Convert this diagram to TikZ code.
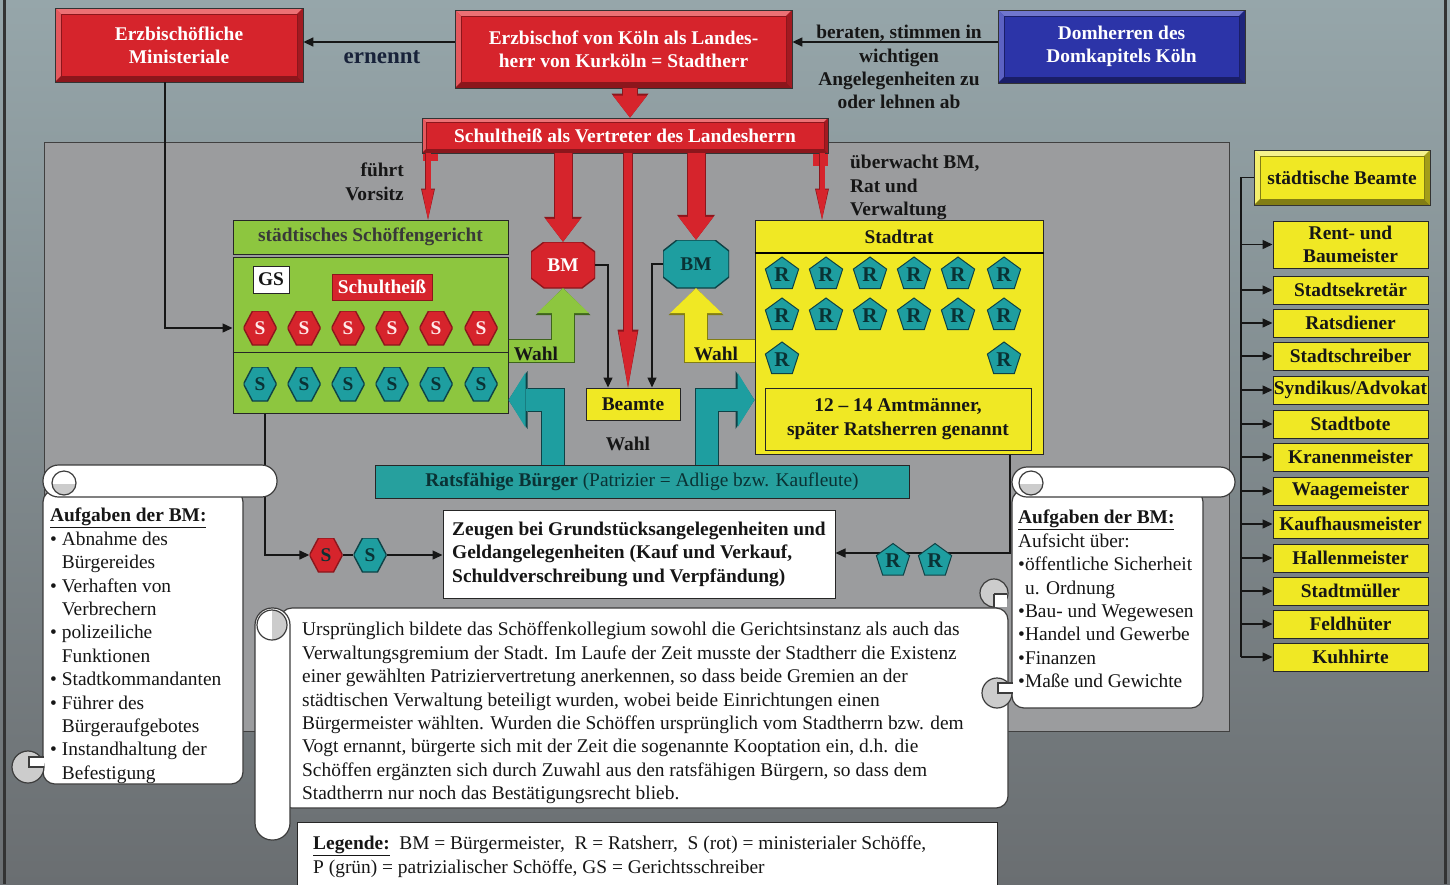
\documentclass[tikz,border=0pt]{standalone}
\usepackage{fontspec}
\setmainfont{Liberation Serif}
\usetikzlibrary{arrows.meta,shapes.geometric}

\definecolor{bgtop}{RGB}{150,166,170}
\definecolor{bgmid}{RGB}{166,206,212}
\definecolor{bgbot}{RGB}{106,110,113}
\definecolor{panel}{RGB}{155,156,158}
\definecolor{ink}{RGB}{22,22,22}
\definecolor{navy}{RGB}{24,34,58}
\definecolor{rd}{RGB}{214,36,44}
\definecolor{rdl}{RGB}{236,112,116}
\definecolor{rdd}{RGB}{140,22,28}
\definecolor{bl}{RGB}{44,52,168}
\definecolor{bll}{RGB}{112,118,206}
\definecolor{bld}{RGB}{26,30,104}
\definecolor{yl}{RGB}{240,232,36}
\definecolor{yll}{RGB}{246,242,140}
\definecolor{yld}{RGB}{130,125,20}
\definecolor{gr}{RGB}{141,198,63}
\definecolor{grd}{RGB}{62,100,28}
\definecolor{tl}{RGB}{30,158,160}
\definecolor{tld}{RGB}{14,66,70}
\definecolor{tlb}{RGB}{38,160,158}
\definecolor{tlx}{RGB}{10,50,52}
\definecolor{curlc}{RGB}{204,204,204}
\definecolor{scrl}{RGB}{60,60,60}

\newcommand\fsz{\fontsize{19.4pt}{23.4pt}\selectfont}

\tikzset{
  bevw/.store in=\bevw, bevw=6pt,
  bevel/.style n args={3}{fill=#1, draw=black!80, line width=0.8pt, inner sep=0pt,
    text=white, font=\bfseries\fsz, align=center,
    path picture={
      \coordinate (pNW) at (path picture bounding box.north west);
      \coordinate (pNE) at (path picture bounding box.north east);
      \coordinate (pSW) at (path picture bounding box.south west);
      \coordinate (pSE) at (path picture bounding box.south east);
      \coordinate (iNW) at ([shift={(\bevw,-\bevw)}]pNW);
      \coordinate (iNE) at ([shift={(-\bevw,-\bevw)}]pNE);
      \coordinate (iSW) at ([shift={(\bevw,\bevw)}]pSW);
      \coordinate (iSE) at ([shift={(-\bevw,\bevw)}]pSE);
      \fill[#2] (pNW) -- (pNE) -- (iNE) -- (iNW) -- cycle;
      \fill[#2!70!#1] (pNW) -- (iNW) -- (iSW) -- (pSW) -- cycle;
      \fill[#3] (pSW) -- (iSW) -- (iSE) -- (pSE) -- cycle;
      \fill[#3!70!#1] (pNE) -- (iNE) -- (iSE) -- (pSE) -- cycle;
      \draw[#3, line width=0.6pt] (iNW) rectangle (iSE);
    }},
  hexa/.style 2 args={minimum width=33pt, minimum height=34pt, inner sep=0pt,
    fill=white, fill opacity=0, text opacity=1, font=\bfseries\fsz,
    path picture={
      \coordinate (pW) at (path picture bounding box.west);
      \coordinate (pE) at (path picture bounding box.east);
      \coordinate (pNW) at (path picture bounding box.north west);
      \coordinate (pNE) at (path picture bounding box.north east);
      \coordinate (pSW) at (path picture bounding box.south west);
      \coordinate (pSE) at (path picture bounding box.south east);
      \filldraw[fill=#1, draw=#2, fill opacity=1, line width=1.4pt]
        (pW) -- ([xshift=9pt]pNW) -- ([xshift=-9pt]pNE) -- (pE)
        -- ([xshift=-9pt]pSE) -- ([xshift=9pt]pSW) -- cycle;
    }},
  octa/.style n args={4}{inner sep=0pt, fill=white, fill opacity=0, text opacity=1,
    font=\bfseries\fsz,
    path picture={
      \coordinate (pNW) at (path picture bounding box.north west);
      \coordinate (pNE) at (path picture bounding box.north east);
      \coordinate (pSW) at (path picture bounding box.south west);
      \coordinate (pSE) at (path picture bounding box.south east);
      \filldraw[fill=#1, draw=#2, fill opacity=1, line width=1.4pt]
        ([xshift=#3]pNW) -- ([xshift=-#3]pNE) -- ([yshift=-#4]pNE) -- ([yshift=#4]pSE)
        -- ([xshift=-#3]pSE) -- ([xshift=#3]pSW) -- ([yshift=#4]pSW) -- ([yshift=-#4]pNW) -- cycle;
    }},
  pent/.style={regular polygon, regular polygon sides=5, minimum size=35pt, inner sep=0pt,
    fill=tl, draw=tld, line width=1pt, text=tlx,
    font=\bfseries\fontsize{21pt}{21pt}\selectfont},
  box/.style={draw=black!85, line width=1pt, inner sep=0pt},
  lbl/.style={font=\bfseries\fsz, text=ink, inner sep=0pt, align=center},
  txt/.style={font=\fsz, text=ink, inner sep=0pt, align=left},
  offb/.style={box, fill=yl, minimum width=155pt, minimum height=28pt,
    font=\bfseries\fsz, text=ink, align=center},
  conn/.style={draw=ink, line width=1.4pt, -{Triangle[length=10pt,width=9pt]}},
  plain/.style={draw=ink, line width=1.4pt},
  fatR/.style={preaction={draw=rdd, line width=19pt, -{Triangle[width=38pt,length=25pt,line width=0pt]}},
    draw=rd, line width=17pt, -{Triangle[width=35pt,length=23pt,line width=0pt]}},
  fatRtop/.style={preaction={draw=rdd, line width=16pt, -{Triangle[width=37pt,length=24pt,line width=0pt]}},
    draw=rd, line width=14pt, -{Triangle[width=34pt,length=22pt,line width=0pt]}},
  thinR/.style={preaction={draw=rdd, line width=6.5pt, -{Triangle[width=14pt,length=31pt,line width=0pt]}},
    draw=rd, line width=5pt, -{Triangle[width=12pt,length=30pt,line width=0pt]}},
  midR/.style={preaction={draw=rdd, line width=9.5pt, -{Triangle[width=21pt,length=58pt,line width=0pt]}},
    draw=rd, line width=8pt, -{Triangle[width=19pt,length=56pt,line width=0pt]}},
  fatG/.style={preaction={draw=grd, line width=24pt, -{Triangle[width=55pt,length=27pt,line width=0pt]}},
    draw=gr, line width=22pt, -{Triangle[width=52pt,length=25pt,line width=0pt]}},
  fatY/.style={preaction={draw=yld, line width=24pt, -{Triangle[width=55pt,length=27pt,line width=0pt]}},
    draw=yl, line width=22pt, -{Triangle[width=52pt,length=25pt,line width=0pt]}},
  fatT/.style={preaction={draw=tld, line width=24pt, -{Triangle[width=58pt,length=19pt,line width=0pt]}},
    draw=tl, line width=22pt, -{Triangle[width=55pt,length=17pt,line width=0pt]}},
  scr/.style={draw=scrl, line width=1.2pt, fill=white},
  scrc/.style={draw=scrl, line width=1.2pt},
}

\begin{document}
\begin{tikzpicture}[x=1pt,y=-1pt]
\useasboundingbox (0,0) rectangle (1450,884);
\shade[top color=bgtop, middle color=bgmid, bottom color=bgbot] (0,0) rectangle (1450,884);
\draw[line width=3pt, black!80] (4,0) -- (4,884) (1445,0) -- (1445,884);

% inner grey panel
\draw[fill=panel, draw=black!75, line width=1pt] (44,142) rectangle (1229,731);

% --- top row ---
\node[bevel={rd}{rdl}{rdd}, minimum width=248pt, minimum height=74pt] (mini) at (179,45) {Erzbischöfliche\\Ministeriale};
\node[bevel={rd}{rdl}{rdd}, minimum width=337pt, minimum height=78pt] (erzb) at (623.5,49) {Erzbischof von Köln als Landes-\\herr von Kurköln = Stadtherr};
\node[bevel={bl}{bll}{bld}, minimum width=247pt, minimum height=73pt] (dom) at (1121.5,46.5) {Domherren des\\Domkapitels Köln};

\coordinate (ay) at (0,42);
\draw[conn] (dom.west |- ay) -- (erzb.east |- ay);
\draw[conn] (erzb.west |- ay) -- (mini.east |- ay);
\node[lbl, text=navy, font=\bfseries\fontsize{23pt}{26pt}\selectfont] (ernennt) at (382,57) {ernennt};
\node[lbl, anchor=north] (berat) at (899,25) {beraten, stimmen in\\wichtigen\\Angelegenheiten zu\\oder lehnen ab};

% --- Schultheiss bar ---
\fill[rd] (423,148) rectangle (438,161);
\fill[rd] (813,148) rectangle (828,166);
\node[bevel={rd}{rdl}{rdd}, bevw=4pt, minimum width=406pt, minimum height=35pt] (bar) at (625,135.5) {Schultheiß als Vertreter des Landesherrn};
\coordinate (fx) at (630,0);
\draw[fatRtop] (erzb.south -| fx) -- (bar.north -| fx);

% --- Schoeffengericht ---
\node[box, fill=gr, minimum width=275pt, minimum height=34pt, font=\bfseries\fsz, text=ink!85] (ghead) at (370.5,237) {städtisches Schöffengericht};
\node[box, fill=gr, minimum width=275pt, minimum height=156pt] (gbody) at (370.5,335) {};
\coordinate (dv) at (0,352);
\draw[black!85, line width=1pt] (gbody.west |- dv) -- (gbody.east |- dv);
\node[box, fill=white, minimum width=36pt, minimum height=27pt, font=\bfseries\fsz, text=ink] (gs) at (271,279.5) {GS};
\node[box, fill=rd, draw=rdd, minimum width=100pt, minimum height=26pt, font=\bfseries\fsz, text=white] (schult) at (382,287) {Schultheiß};
\foreach \i/\xx in {1/260,2/304,3/348,4/392,5/436,6/481} {
  \node[hexa={rd}{rdd}, text=white!92!red] (sr\i) at (\xx,328) {S};
  \node[hexa={tl}{tld}, text=tlx] (st\i) at (\xx,384) {S};
}

% --- Stadtrat ---
\node[box, fill=yl, minimum width=288pt, minimum height=234pt] (stadt) at (899,337) {};
\node[lbl] (sthead) at (899,237) {Stadtrat};
\coordinate (hy) at (0,253);
\draw[black, line width=2.5pt] (stadt.west |- hy) -- (stadt.east |- hy);
\foreach \i/\xx in {1/782,2/826,3/870,4/914,5/958,6/1004} {
  \node[pent] (ra\i) at (\xx,274.5) {R};
  \node[pent] (rb\i) at (\xx,315.5) {R};
}
\node[pent] (rc1) at (782,359.5) {R};
\node[pent] (rc6) at (1004,359.5) {R};
\node[box, fill=yl, minimum width=266pt, minimum height=62pt, font=\bfseries\fsz, text=ink, align=center] (amt) at (898,419) {12 – 14 Amtmänner,\\später Ratsherren genannt};

% --- Buergermeister and Beamte ---
\node[octa={rd}{rdd}{13pt}{10pt}, minimum width=64pt, minimum height=46pt, text=white] (bmR) at (563,265) {BM};
\node[octa={tl}{tld}{14pt}{11pt}, minimum width=66pt, minimum height=48pt, text=tlx] (bmT) at (696,264) {BM};
\node[box, fill=yl, minimum width=94pt, minimum height=32pt, font=\bfseries\fsz, text=ink] (beamte) at (633,404) {Beamte};

% red arrows from the Schultheiss bar
\coordinate (xa) at (428,0);
\coordinate (xb) at (628,0);
\coordinate (xc) at (822,0);
\draw[thinR] (bar.south -| xa) -- (ghead.north -| xa);
\draw[fatR] (bar.south -| bmR.north) -- (bmR.north);
\draw[midR] (bar.south -| xb) -- (beamte.north -| xb);
\draw[fatR] (bar.south -| bmT.north) -- (bmT.north);
\draw[thinR] (bar.south -| xc) -- (stadt.north -| xc);

\node[lbl, align=right, anchor=north east] (vors) at (404,163) {führt\\Vorsitz};
\node[lbl, align=left, anchor=north west] (uew) at (850,155) {überwacht BM,\\Rat und\\Verwaltung};

% BM -> Beamte
\coordinate (xd) at (608,0);
\coordinate (xe) at (652,0);
\draw[conn] (bmR.east) -| (beamte.north -| xd);
\draw[conn] (bmT.west) -| (beamte.north -| xe);

% elections
\coordinate (wy) at (0,351);
\draw[fatG] (gbody.east |- wy) -| (bmR.south);
\draw[fatY] (stadt.west |- wy) -| (bmT.south);
\node[lbl] (wahl1) at (536,354) {Wahl};
\node[lbl] (wahl2) at (716,354) {Wahl};

% --- Ratsfaehige Buerger ---
\node[box, fill=tlb, minimum width=534pt, minimum height=33pt, font=\fsz, text=tlx] (rbar) at (642,481.5) {\textbf{Ratsfähige Bürger} (Patrizier = Adlige bzw. Kaufleute)};
\coordinate (ty) at (0,400);
\coordinate (tx1) at (553,0);
\coordinate (tx2) at (707,0);
\draw[fatT] (rbar.north -| tx1) |- (gbody.east |- ty);
\draw[fatT] (rbar.north -| tx2) |- (stadt.west |- ty);
\node[lbl] (wahl3) at (628,444) {Wahl};

% Ministeriale -> ministerial Schoeffen
\coordinate (mx) at (165,0);
\draw[conn] (mini.south -| mx) |- (gbody.west |- sr1);

% --- witnesses ---
\node[box, fill=white, minimum width=392pt, minimum height=88pt, align=left, font=\bfseries\fsz, text=ink] (zeugen) at (639,554) {Zeugen bei Grundstücksangelegenheiten und\\Geldangelegenheiten (Kauf und Verkauf,\\Schuldverschreibung und Verpfändung)};
\node[hexa={rd}{rdd}, text=tlx] (za) at (326,555) {S};
\node[hexa={tl}{tld}, text=tlx] (zb) at (370,555) {S};
\coordinate (lx) at (265,0);
\draw[conn] (gbody.south -| lx) |- (za.west);
\draw[plain] (za.east) -- (zb.west);
\draw[conn] (zb.east) -- (zeugen.west |- zb);
\coordinate (rx) at (1010,0);
\coordinate (ry) at (0,553);
\draw[conn] (stadt.south -| rx) |- (zeugen.east |- ry);
\node[pent] (zr1) at (893,561) {R};
\node[pent] (zr2) at (935,561) {R};

% --- left scroll ---
\draw[scr, rounded corners=12pt] (43,490) rectangle (243,784);
\draw[scr, rounded corners=15.5pt] (43,465) rectangle (277,497);
\begin{scope}
  \clip (45,484) rectangle (82,498);
  \fill[curlc] (64,483) circle[radius=12pt];
\end{scope}
\draw[scrc] (64,483) circle[radius=12pt];
\draw[scr, fill=curlc] (28,767) circle[radius=16pt];
\fill[white] (29,757) rectangle (44,767);
\draw[scrc] (44,757) -- (29,757) -- (29,767) -- (44,767);
\node[txt, anchor=north west] (ltxt) at (50,508) {\textbf{\underline{Aufgaben der BM:}}\\
• Abnahme des\\\phantom{• }Bürgereides\\
• Verhaften von\\\phantom{• }Verbrechern\\
• polizeiliche\\\phantom{• }Funktionen\\
• Stadtkommandanten\\
• Führer des\\\phantom{• }Bürgeraufgebotes\\
• Instandhaltung der\\\phantom{• }Befestigung};

% --- main text scroll ---
\draw[scr, rounded corners=12pt] (280,608) rectangle (1008,808);
\draw[scr, rounded corners=17pt] (255,608) rectangle (290,840);
\begin{scope}
  \clip (272,605) rectangle (295,645);
  \fill[curlc] (272,625) circle[radius=15pt];
\end{scope}
\draw[scrc] (272,625) circle[radius=15pt];
\draw[scr, fill=curlc] (994,593) circle[radius=14pt];
\fill[white] (994,594) rectangle (1007,607);
\draw[scrc] (994,594) -- (994,607) (994,594) -- (1007,594);
\node[txt, anchor=north west] (para) at (302,622) {Ursprünglich bildete das Schöffenkollegium sowohl die Gerichtsinstanz als auch das\\
Verwaltungsgremium der Stadt. Im Laufe der Zeit musste der Stadtherr die Existenz\\
einer gewählten Patriziervertretung anerkennen, so dass beide Gremien an der\\
städtischen Verwaltung beteiligt wurden, wobei beide Einrichtungen einen\\
Bürgermeister wählten. Wurden die Schöffen ursprünglich vom Stadtherrn bzw. dem\\
Vogt ernannt, bürgerte sich mit der Zeit die sogenannte Kooptation ein, d.h. die\\
Schöffen ergänzten sich durch Zuwahl aus den ratsfähigen Bürgern, so dass dem\\
Stadtherrn nur noch das Bestätigungsrecht blieb.};

% --- right scroll ---
\draw[scr, rounded corners=12pt] (1012,490) rectangle (1203,708);
\draw[scr, rounded corners=15pt] (1012,467) rectangle (1235,497);
\begin{scope}
  \clip (1014,484) rectangle (1050,498);
  \fill[curlc] (1031,483) circle[radius=12pt];
\end{scope}
\draw[scrc] (1031,483) circle[radius=12pt];
\draw[scr, fill=curlc] (997,693) circle[radius=15pt];
\fill[white] (998,683) rectangle (1013,693);
\draw[scrc] (1013,683) -- (998,683) -- (998,693) -- (1013,693);
\node[txt, anchor=north west] (rtxt) at (1018,510) {\textbf{\underline{Aufgaben der BM:}}\\
Aufsicht über:\\
•öffentliche Sicherheit\\
\hspace{7pt}u. Ordnung\\
•Bau- und Wegewesen\\
•Handel und Gewerbe\\
•Finanzen\\
•Maße und Gewichte};

% --- legend ---
\draw[box, fill=white] (297,822) rectangle (997,900);
\node[txt, anchor=north west] (leg) at (313,836) {\textbf{\underline{Legende:}}\ \ BM = Bürgermeister,\ \ R = Ratsherr,\ \ S (rot) = ministerialer Schöffe,\\
P (grün) = patrizialischer Schöffe, GS = Gerichtsschreiber};

% --- municipal officials ---
\node[bevel={yl}{yll}{yld}, text=ink, minimum width=176pt, minimum height=55pt] (sbeamte) at (1342,177.5) {städtische Beamte};
\node[offb, minimum height=47pt] (o0) at (1350.5,244.5) {Rent- und\\Baumeister};
\node[offb] (o1) at (1350.5,290) {Stadtsekretär};
\node[offb] (o2) at (1350.5,323) {Ratsdiener};
\node[offb] (o3) at (1350.5,356) {Stadtschreiber};
\node[offb] (o4) at (1350.5,390) {Syndikus/Advokat};
\node[offb] (o5) at (1350.5,424) {Stadtbote};
\node[offb] (o6) at (1350.5,457) {Kranenmeister};
\node[offb] (o7) at (1350.5,491) {Waagemeister};
\node[offb] (o8) at (1350.5,524) {Kaufhausmeister};
\node[offb] (o9) at (1350.5,558) {Hallenmeister};
\node[offb] (o10) at (1350.5,591) {Stadtmüller};
\node[offb] (o11) at (1350.5,624) {Feldhüter};
\node[offb] (o12) at (1350.5,657) {Kuhhirte};
\coordinate (vx) at (1241,0);
\draw[plain, line width=1.2pt] (sbeamte.west) -- (vx |- sbeamte.west) -- (vx |- o12.west);
\foreach \k in {0,...,12} {
  \draw[conn] (vx |- o\k.west) -- (o\k.west);
}
\end{tikzpicture}
\end{document}
